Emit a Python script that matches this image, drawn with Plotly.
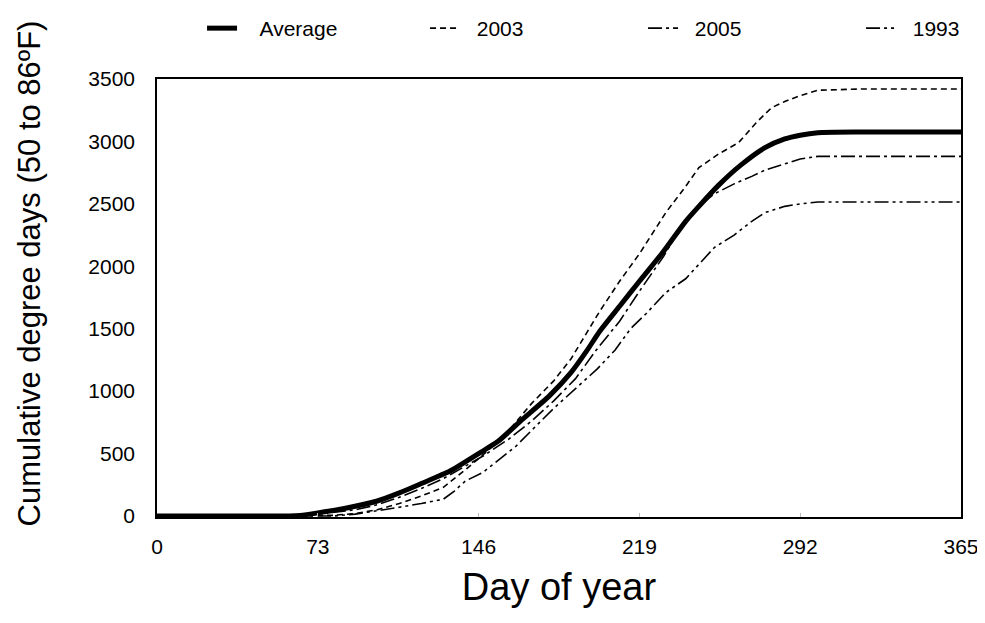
import plotly.graph_objects as go

# Day-of-year sample points and cumulative degree days (50 to 86°F)
avg_days = [0, 30, 60, 65, 73, 85, 100, 110, 120, 133, 146, 155, 165, 178, 188, 195, 201, 210, 219,
            230, 240, 246, 255, 265, 276, 285, 292, 300, 320, 365]
avg_vals = [0, 0, 0, 5, 25, 60, 120, 185, 260, 360, 500, 600, 760, 960, 1150, 1320, 1480, 1680, 1880,
            2120, 2360, 2480, 2650, 2810, 2950, 3020, 3050, 3070, 3075, 3075]

y2003_days = [0, 70, 80, 90, 100, 110, 120, 130, 140, 150, 160, 170, 180, 188, 195, 201, 210, 219,
              231, 240, 246, 255, 264, 272, 279, 285, 291, 300, 320, 365]
y2003_vals = [0, 0, 5, 20, 50, 100, 160, 230, 370, 520, 690, 900, 1080, 1260, 1460, 1640, 1880, 2100,
              2430, 2640, 2790, 2900, 2990, 3150, 3270, 3320, 3360, 3410, 3420, 3420]

y2005_days = [0, 65, 75, 90, 100, 110, 120, 130, 140, 148, 160, 170, 180, 190, 199, 210, 219, 230,
              238, 246, 253, 262, 270, 276, 285, 292, 300, 365]
y2005_vals = [0, 0, 20, 50, 90, 150, 220, 300, 400, 480, 620, 760, 920, 1100, 1320, 1560, 1800, 2080,
              2320, 2480, 2580, 2660, 2720, 2770, 2820, 2860, 2880, 2880]

y1993_days = [0, 80, 90, 100, 110, 120, 130, 135, 140, 148, 155, 163, 172, 180, 190, 200, 208, 215,
              222, 231, 240, 247, 253, 262, 270, 276, 285, 292, 300, 365]
y1993_vals = [0, 0, 15, 40, 70, 100, 135, 200, 280, 350, 450, 560, 720, 860, 1020, 1180, 1330, 1500,
              1620, 1790, 1900, 2030, 2150, 2250, 2360, 2430, 2480, 2500, 2515, 2515]

x_ticks = [0, 73, 146, 219, 292, 365]
y_ticks = [0, 500, 1000, 1500, 2000, 2500, 3000, 3500]

FONT = "Liberation Sans, Arial, sans-serif"
PAD = "\u00a0\u00a0"

fig = go.Figure()
fig.add_trace(go.Scatter(x=avg_days, y=avg_vals, name=PAD + "\u00a0Average", mode="lines", legendwidth=178,
                         line=dict(color="black", width=5, shape="spline", smoothing=0.6)))
fig.add_trace(go.Scatter(x=y2003_days, y=y2003_vals, name=PAD + "2003", mode="lines", legendwidth=173,
                         line=dict(color="black", width=1.6, dash="6px,4px")))
fig.add_trace(go.Scatter(x=y2005_days, y=y2005_vals, name=PAD + "2005", mode="lines", legendwidth=173,
                         line=dict(color="black", width=1.6, dash="14px,4px,3px,4px")))
fig.add_trace(go.Scatter(x=y1993_days, y=y1993_vals, name=PAD + "1993", mode="lines", legendwidth=70,
                         line=dict(color="black", width=1.6, dash="14px,4px,3px,4px,3px,4px")))

fig.update_layout(
    width=977, height=600,
    margin=dict(l=149, r=24, t=71, b=91, autoexpand=False),
    paper_bgcolor="white", plot_bgcolor="white",
    font=dict(family=FONT, color="black", size=21),
    showlegend=True,
    legend=dict(orientation="h", xref="container", yref="container",
                x=0.1986, y=1.0, xanchor="left", yanchor="top",
                font=dict(size=21), bgcolor="rgba(0,0,0,0)"),
    xaxis=dict(range=[0, 365], tickvals=x_ticks, ticktext=[str(v) for v in x_ticks],
               showgrid=False, zeroline=False, showline=True, linecolor="black",
               linewidth=1.5, mirror=True, ticks="inside", ticklen=4, tickcolor="#bbbbbb",
               automargin=False, tickfont=dict(size=21), ticklabelstandoff=10,
               ticklabeloverflow="allow",
               title=dict(text="Day of year", font=dict(size=38), standoff=28)),
    yaxis=dict(range=[-8, 3500], tickvals=y_ticks, ticktext=[str(v) for v in y_ticks],
               showgrid=False, zeroline=False, showline=True, linecolor="black",
               linewidth=1.5, mirror=True, ticks="", ticklabelstandoff=16,
               automargin=False, tickfont=dict(size=21)),
    annotations=[dict(text="Cumulative degree days (50 to 86ºF)", textangle=-90,
                      xref="paper", yref="paper", x=-0.158, y=0.556,
                      xanchor="center", yanchor="middle", showarrow=False,
                      font=dict(size=31))],
)

fig.write_html("out.html")
